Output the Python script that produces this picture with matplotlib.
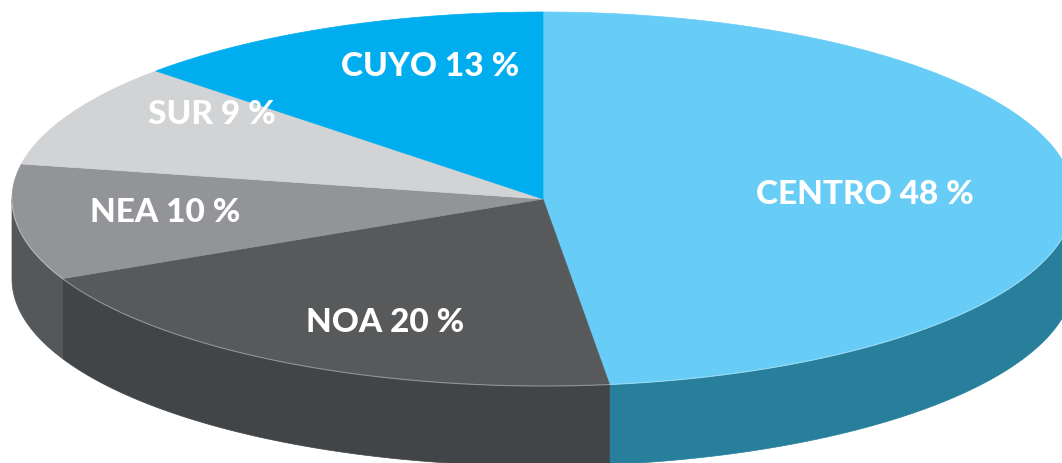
import numpy as np
import matplotlib
matplotlib.use("Agg")
import matplotlib.pyplot as plt
from matplotlib.patches import Polygon

# Data
regions = ["CENTRO", "NOA", "NEA", "SUR", "CUYO"]
shares = [48, 20, 10, 9, 13]
labels = ["CENTRO 48 %", "NOA 20 %", "NEA 10 %", "SUR 9 %", "CUYO 13 %"]

top_colors = ["#67CDF6", "#58595B", "#929497", "#D1D3D4", "#00AEEF"]
side_colors = ["#287F9C", "#424548", "#55585A", "#8E9092", "#0A86B5"]

W, H = 1062, 463
fig = plt.figure(figsize=(W / 100, H / 100), dpi=100)
ax = fig.add_axes([0, 0, 1, 1])
ax.set_xlim(0, W)
ax.set_ylim(H, 0)
ax.axis("off")

cx, cy, a, b, depth = 543, 199, 531, 187, 80


def ell(theta_deg):
    t = np.radians(theta_deg)
    return cx + a * np.cos(t), cy - b * np.sin(t)


# slice angles (clockwise from 90 deg)
fr = np.array(shares, dtype=float) / sum(shares)
ends = 90 - 360 * np.cumsum(fr)
starts = np.concatenate([[90], ends[:-1]])

# side walls (front half)
for s, e, col in zip(starts, ends, side_colors):
    for lo, hi in [(-180, 0), (180, 360), (-540, -360)]:
        l, h = max(e, lo), min(s, hi)
        if h > l:
            th = np.linspace(l, h, 200)
            x, y = ell(th)
            xs = np.concatenate([x, x[::-1]])
            ys = np.concatenate([y, (y + depth)[::-1]])
            ax.add_patch(Polygon(np.column_stack([xs, ys]), closed=True,
                                 facecolor=col, edgecolor=col, lw=0.5, zorder=1))

# top faces
for s, e, col in zip(starts, ends, top_colors):
    th = np.linspace(s, e, 300)
    x, y = ell(th)
    xs = np.concatenate([[cx], x])
    ys = np.concatenate([[cy], y])
    ax.add_patch(Polygon(np.column_stack([xs, ys]), closed=True,
                         facecolor=col, edgecolor=col, lw=0.5, zorder=2))

# subtle rim highlight on the front
th = np.linspace(-180, 0, 400)
x, y = ell(th)
ax.plot(x, y, color="white", lw=0.8, alpha=0.35, zorder=3)

# labels
label_pos = [(865, 195), (385, 322), (165, 212), (212, 115), (430, 67)]
for (lx, ly), txt in zip(label_pos, labels):
    ax.text(lx, ly, txt, ha="center", va="center", color="white",
            fontsize=24, fontweight="black", family="Lato", zorder=5)

fig.savefig("out.png", dpi=100)
